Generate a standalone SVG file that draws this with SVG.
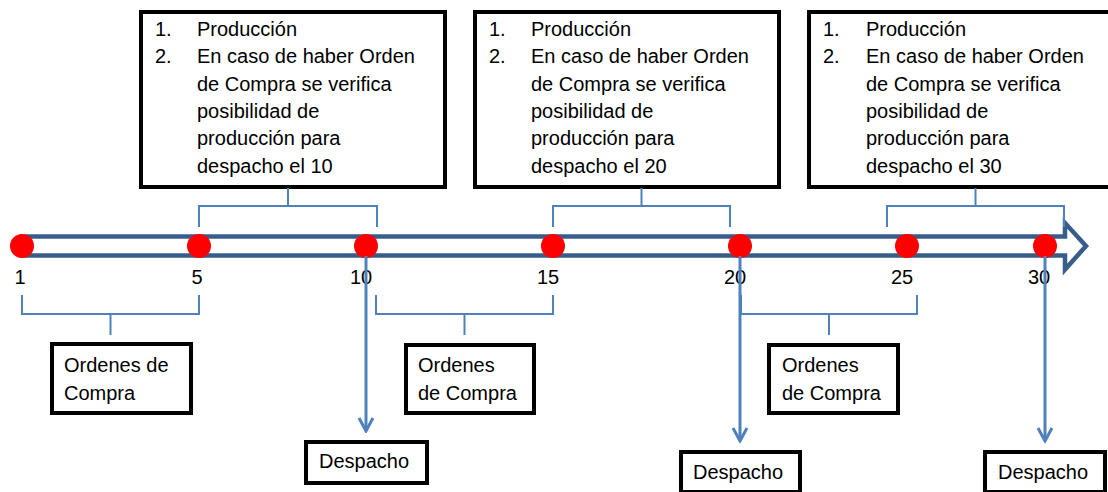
<svg xmlns="http://www.w3.org/2000/svg" width="1108" height="492" viewBox="0 0 1108 492">
  <defs>
    <style>
      .box { fill: #ffffff; stroke: #000000; stroke-width: 4; }
      .txt { font-family: "Liberation Sans", Arial, sans-serif; font-size: 20px; fill: #000000; }
      .num { font-family: "Liberation Sans", Arial, sans-serif; font-size: 20px; fill: #000000; text-anchor: middle; }
      .brace { fill: none; stroke: #4f81bd; stroke-width: 2; }
      .flow { fill: none; stroke: #4f81bd; stroke-width: 3; }
      .dot { fill: #ff0000; }
      .axis { fill: #ffffff; stroke: #385d8a; stroke-width: 4.5; stroke-linejoin: miter; }
    </style>
    <!-- open chevron head; marker x-axis follows the line direction -->
    <marker id="chev" viewBox="-16 -10 18 20" markerWidth="18" markerHeight="20" refX="0" refY="0" markerUnits="userSpaceOnUse" orient="auto">
      <path d="M-13,-7 L0,0 L-13,7" fill="none" stroke="#4f81bd" stroke-width="3"/>
    </marker>
  </defs>

  <!-- planning boxes above the time axis -->
  <g id="plan-10">
    <rect class="box" x="141" y="12" width="304" height="175"/>
    <text class="txt" x="155" y="36">1.</text>
    <text class="txt" x="155" y="63.3">2.</text>
    <text class="txt" x="197" y="36">Producción</text>
    <text class="txt" x="197" y="63.3">En caso de haber Orden</text>
    <text class="txt" x="197" y="90.6">de Compra se verifica</text>
    <text class="txt" x="197" y="117.9">posibilidad de</text>
    <text class="txt" x="197" y="145.2">producción para</text>
    <text class="txt" x="197" y="172.5">despacho el 10</text>
  </g>
  <g id="plan-20">
    <rect class="box" x="475" y="12" width="304" height="175"/>
    <text class="txt" x="489" y="36">1.</text>
    <text class="txt" x="489" y="63.3">2.</text>
    <text class="txt" x="531" y="36">Producción</text>
    <text class="txt" x="531" y="63.3">En caso de haber Orden</text>
    <text class="txt" x="531" y="90.6">de Compra se verifica</text>
    <text class="txt" x="531" y="117.9">posibilidad de</text>
    <text class="txt" x="531" y="145.2">producción para</text>
    <text class="txt" x="531" y="172.5">despacho el 20</text>
  </g>
  <g id="plan-30">
    <rect class="box" x="809" y="12" width="304" height="175"/>
    <text class="txt" x="823" y="36">1.</text>
    <text class="txt" x="823" y="63.3">2.</text>
    <text class="txt" x="866" y="36">Producción</text>
    <text class="txt" x="866" y="63.3">En caso de haber Orden</text>
    <text class="txt" x="866" y="90.6">de Compra se verifica</text>
    <text class="txt" x="866" y="117.9">posibilidad de</text>
    <text class="txt" x="866" y="145.2">producción para</text>
    <text class="txt" x="866" y="172.5">despacho el 30</text>
  </g>

  <!-- time axis drawn as an outlined block arrow -->
  <g id="axis">
    <path class="axis" d="M22,236.5 H1065 V223 L1086,246 L1065,269.5 V255.5 H22 Z"/>
  </g>

  <!-- brackets grouping the day ranges -->
  <g id="connectors">
    <path class="brace" d="M199,227 V206 H377 V227 M288,188 V206"/>
    <path class="brace" d="M553,227 V206 H730 V227 M641.5,188 V206"/>
    <path class="brace" d="M887,227 V206 H1064 V227 M975.5,188 V206"/>
    <path class="brace" d="M22,295 V314 H199 V295 M110.5,314 V335"/>
    <path class="brace" d="M376,295 V314 H553 V295 M464.5,314 V335"/>
    <path class="brace" d="M741,295 V314 H917 V295 M829,314 V335"/>
  </g>

  <!-- day markers -->
  <g id="days">
    <circle class="dot" cx="22" cy="246" r="12"/>
    <circle class="dot" cx="199" cy="246" r="12"/>
    <circle class="dot" cx="366" cy="246" r="12"/>
    <circle class="dot" cx="553" cy="246" r="12"/>
    <circle class="dot" cx="740" cy="246" r="12"/>
    <circle class="dot" cx="907" cy="246" r="12"/>
    <circle class="dot" cx="1045" cy="246" r="12"/>
    <text class="num" x="20" y="284">1</text>
    <text class="num" x="197" y="284">5</text>
    <text class="num" x="361" y="284">10</text>
    <text class="num" x="548" y="284">15</text>
    <text class="num" x="735" y="284">20</text>
    <text class="num" x="902" y="284">25</text>
    <text class="num" x="1039" y="284">30</text>
  </g>

  <g id="dispatch-arrows">
    <path class="flow" d="M366,256 V431" marker-end="url(#chev)"/>
    <path class="flow" d="M740,256 V441" marker-end="url(#chev)"/>
    <path class="flow" d="M1045,256 V441" marker-end="url(#chev)"/>
  </g>

  <!-- purchase order boxes -->
  <g id="orders-1">
    <rect class="box" x="52" y="344" width="139" height="69"/>
    <text class="txt" x="64" y="372">Ordenes de</text>
    <text class="txt" x="64" y="400">Compra</text>
  </g>
  <g id="orders-2">
    <rect class="box" x="406" y="345" width="128" height="68"/>
    <text class="txt" x="418" y="372">Ordenes</text>
    <text class="txt" x="418" y="400">de Compra</text>
  </g>
  <g id="orders-3">
    <rect class="box" x="769" y="345" width="129" height="68"/>
    <text class="txt" x="782" y="372">Ordenes</text>
    <text class="txt" x="782" y="400">de Compra</text>
  </g>

  <!-- dispatch boxes -->
  <g id="dispatch-10">
    <rect class="box" x="306" y="442" width="121" height="41"/>
    <text class="txt" x="319" y="468">Despacho</text>
  </g>
  <g id="dispatch-20">
    <rect class="box" x="681" y="452" width="119" height="40"/>
    <text class="txt" x="693" y="479">Despacho</text>
  </g>
  <g id="dispatch-30">
    <rect class="box" x="985" y="452" width="120" height="40"/>
    <text class="txt" x="998" y="479">Despacho</text>
  </g>
</svg>
